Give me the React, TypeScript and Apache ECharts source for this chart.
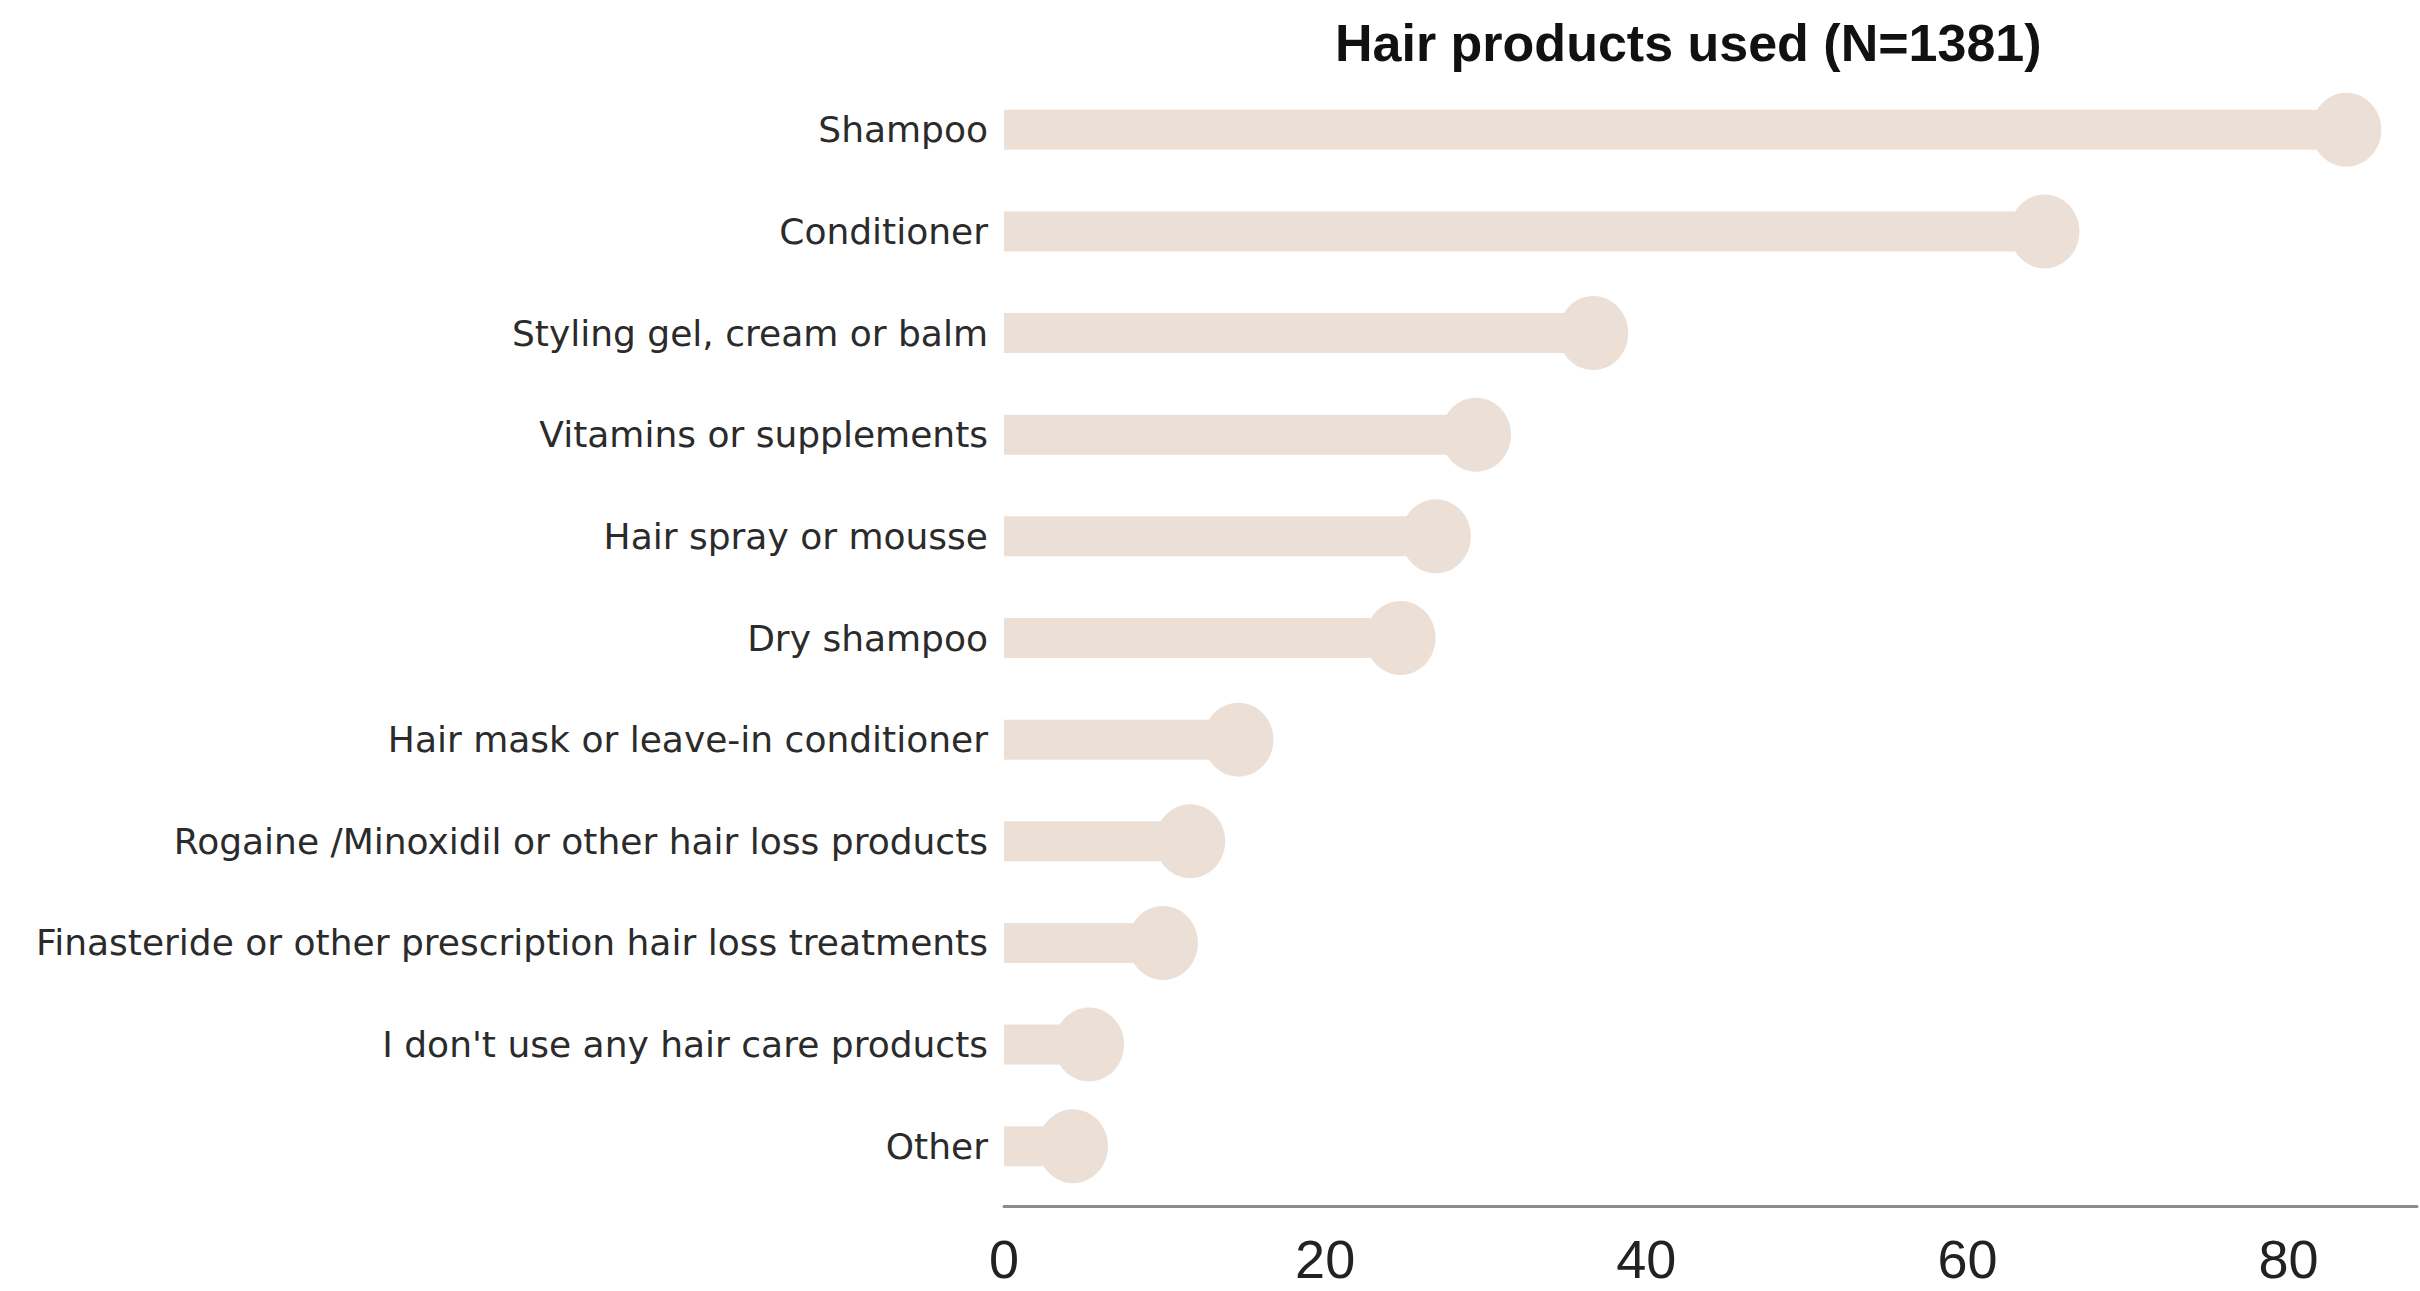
import React, { useEffect, useRef } from "react";
import * as echarts from "echarts";

const categories: string[] = [
  "Shampoo",
  "Conditioner",
  "Styling gel, cream or balm",
  "Vitamins or supplements",
  "Hair spray or mousse",
  "Dry shampoo",
  "Hair mask or leave-in conditioner",
  "Rogaine /Minoxidil or other hair loss products",
  "Finasteride or other prescription hair loss treatments",
  "I don't use any hair care products",
  "Other",
];

const values: number[] = [83.6, 64.8, 36.7, 29.4, 26.9, 24.7, 14.6, 11.6, 9.9, 5.3, 4.3];

const xTicks: number[] = [0, 20, 40, 60, 80];

const titleText = "Hair products used (N=1381)";

export default function App() {
  const ref = useRef<HTMLDivElement>(null);

  useEffect(() => {
    if (!ref.current) return;
    const chart = echarts.init(ref.current, undefined, { renderer: "svg" });
    const barColor = "#ECE0D6";
    chart.setOption({
      animation: false,
      backgroundColor: "#ffffff",
      title: {
        text: titleText,
        left: 1330,
        top: 12,
        textStyle: {
          fontFamily: "Liberation Sans, Arial, sans-serif",
          fontWeight: "bold",
          fontSize: 52,
          color: "#111111",
        },
      },
      grid: { left: 1004, right: 0, top: 79, bottom: 94, containLabel: false },
      xAxis: {
        type: "value",
        min: 0,
        max: 88,
        interval: 20,
        offset: 9,
        axisLine: { show: true, lineStyle: { color: "#8c8c8c", width: 3 } },
        axisTick: { show: false },
        splitLine: { show: false },
        axisLabel: {
          margin: 26,
          fontFamily: "Liberation Sans, Arial, sans-serif",
          fontSize: 54,
          color: "#222222",
          formatter: (v: number) => (xTicks.includes(v) ? String(v) : ""),
        },
      },
      yAxis: {
        type: "category",
        data: categories,
        inverse: true,
        axisLine: { show: false },
        axisTick: { show: false },
        splitLine: { show: false },
        axisLabel: {
          margin: 16,
          fontFamily: "DejaVu Sans, sans-serif",
          fontSize: 36,
          color: "#2b2b2b",
          padding: [6, 0, 0, 0],
        },
      },
      series: [
        {
          type: "bar",
          data: values,
          barWidth: 40,
          itemStyle: { color: barColor },
          silent: true,
        },
        {
          type: "scatter",
          data: values.map((v, i) => [v, categories[i]]),
          symbol: "circle",
          symbolSize: [70, 74],
          itemStyle: { color: barColor, opacity: 1 },
          silent: true,
          z: 3,
        },
      ],
    });
    return () => chart.dispose();
  }, []);

  return (
    <div
      ref={ref}
      style={{ position: "fixed", left: 0, top: 0, width: 2420, height: 1291 }}
    />
  );
}
